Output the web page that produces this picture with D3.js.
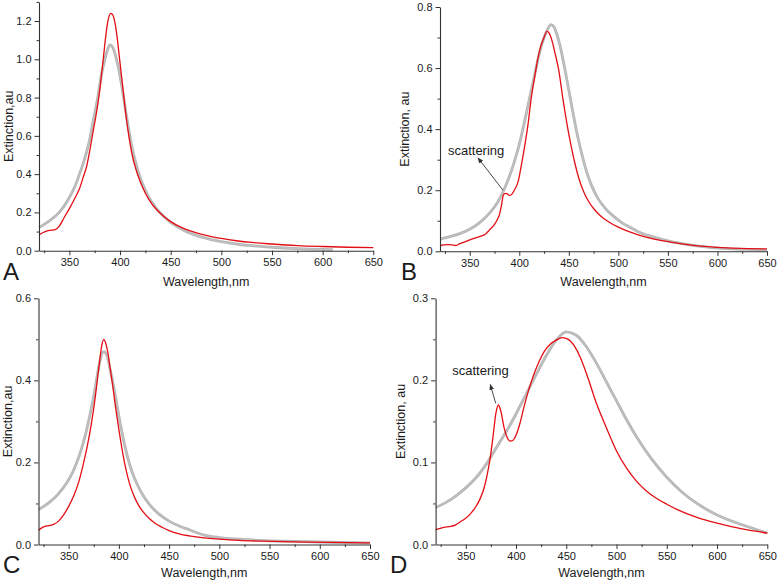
<!DOCTYPE html>
<html><head><meta charset="utf-8">
<script src="https://cdn.jsdelivr.net/npm/d3@7"></script>
<style>
html,body{margin:0;padding:0;background:#fff;}
svg{display:block;font-family:"Liberation Sans",Arial,sans-serif;}
</style></head>
<body>
<svg id="chart" width="778" height="585"></svg>
<script>
// ---------- data ----------
const panelLetters = ["A", "B", "C", "D"];
const xTitle = "Wavelength,nm";
const yTitles = ["Extinction,au", "Extinction, au", "Extinction,au", "Extinction, au"];
const xTicks = [350, 400, 450, 500, 550, 600, 650];
const xMinorTicks = [325, 375, 425, 475, 525, 575, 625];
const yMaxA = 1.3, yMaxB = 0.8, yMaxC = 0.6, yMaxD = 0.3;
const yTicksA = [0, 0.2, 0.4, 0.6, 0.8, 1.0, 1.2];
const yMinorA = [0.1, 0.3, 0.5, 0.7, 0.9, 1.1, 1.3];
const yTicksB = [0, 0.2, 0.4, 0.6, 0.8];
const yMinorB = [0.1, 0.3, 0.5, 0.7];
const yTicksC = [0, 0.2, 0.4, 0.6];
const yMinorC = [0.1, 0.3, 0.5];
const yTicksD = [0, 0.1, 0.2, 0.3];
const yMinorD = [0.05, 0.15, 0.25];

// Panel A
const aGrayNm  = [320,330,340,348,355,360,365,370,374,378,382,385,388,390,393,396,399,402,405,408,411,415,420,425,430,436,443,450,460,470,480,490,500,515,530,550,575,600,610];
const aGrayVal = [0.122,0.155,0.2,0.26,0.33,0.40,0.48,0.58,0.69,0.80,0.93,1.0,1.055,1.075,1.06,1.01,0.94,0.85,0.75,0.65,0.56,0.47,0.38,0.315,0.265,0.22,0.18,0.148,0.115,0.09,0.072,0.058,0.047,0.035,0.026,0.018,0.011,0.007,0.006];
const aRedNm   = [320,324,328,332,336,340,345,350,355,360,364,367,370,373,377,380,383,385,388,391,393,395,397,400,403,406,409,412,416,420,425,430,436,443,450,460,470,480,490,500,515,530,550,575,600,625,650];
const aRedVal  = [0.082,0.095,0.104,0.107,0.11,0.128,0.175,0.22,0.27,0.325,0.39,0.44,0.52,0.61,0.73,0.84,0.98,1.08,1.2,1.24,1.23,1.19,1.12,0.98,0.84,0.70,0.59,0.50,0.42,0.36,0.30,0.255,0.215,0.18,0.152,0.123,0.102,0.086,0.074,0.064,0.052,0.043,0.035,0.027,0.022,0.018,0.016];

// Panel B
const bGrayNm  = [320,330,340,350,360,370,378,385,390,395,400,405,410,415,420,425,429,432,435,438,441,444,447,451,455,459,463,468,473,480,487,495,503,512,520,535,550,570,590,610,630,650];
const bGrayVal = [0.04,0.048,0.058,0.072,0.094,0.125,0.16,0.205,0.245,0.293,0.35,0.42,0.495,0.57,0.645,0.70,0.73,0.742,0.735,0.71,0.675,0.63,0.58,0.51,0.44,0.375,0.32,0.26,0.215,0.17,0.14,0.115,0.095,0.078,0.064,0.047,0.034,0.022,0.014,0.009,0.006,0.004];
const bRedNm   = [320,327,332,336,340,347,352,360,366,370,375,378,380,382,384,386,388,390,392,395,399,402,406,409,412,416,419,422,425,428,430,433,436,440,444,448,452,456,460,465,470,476,483,490,500,510,520,535,550,570,590,610,630,650];
const bRedVal  = [0.019,0.022,0.021,0.019,0.025,0.033,0.04,0.048,0.057,0.07,0.088,0.105,0.12,0.15,0.185,0.19,0.188,0.183,0.185,0.2,0.23,0.28,0.355,0.42,0.5,0.58,0.635,0.675,0.70,0.72,0.715,0.69,0.65,0.59,0.50,0.42,0.35,0.29,0.24,0.195,0.163,0.136,0.113,0.097,0.079,0.065,0.054,0.041,0.032,0.022,0.015,0.011,0.009,0.008];

// Panel C
const cGrayNm  = [320,326,332,340,348,354,358,363,368,372,376,379,381,383,385,387,389,391,394,397,400,403,406,409,413,418,424,431,440,450,460,470,485,500,520,545,575,610,650];
const cGrayVal = [0.085,0.094,0.105,0.124,0.15,0.176,0.199,0.235,0.28,0.325,0.375,0.42,0.445,0.465,0.47,0.466,0.455,0.43,0.395,0.355,0.313,0.275,0.24,0.21,0.178,0.148,0.12,0.096,0.074,0.057,0.045,0.036,0.023,0.017,0.013,0.0095,0.0075,0.0055,0.004];
const cRedNm   = [320,325,330,335,340,345,350,355,360,365,369,373,376,379,381,383,385,387,389,391,394,397,400,403,406,409,412,416,420,425,430,436,443,450,460,470,485,500,520,545,575,610,650];
const cRedVal  = [0.035,0.043,0.046,0.049,0.057,0.072,0.093,0.118,0.152,0.2,0.245,0.3,0.35,0.41,0.45,0.485,0.5,0.49,0.468,0.435,0.385,0.33,0.28,0.235,0.195,0.163,0.138,0.113,0.094,0.077,0.064,0.052,0.042,0.034,0.026,0.021,0.016,0.013,0.01,0.008,0.0065,0.005,0.004];

// Panel D
const dGrayNm  = [320,330,340,350,360,370,380,390,400,410,420,430,440,450,460,470,480,490,500,510,520,535,550,565,580,600,625,650];
const dGrayVal = [0.045,0.051,0.059,0.069,0.081,0.097,0.117,0.137,0.159,0.183,0.207,0.23,0.249,0.259,0.255,0.241,0.221,0.198,0.175,0.152,0.131,0.104,0.082,0.064,0.05,0.036,0.024,0.014];
const dRedNm   = [320,328,335,340,345,350,355,360,364,368,371,374,377,380,382.5,385,388,391,394,397,400,404,408,413,418,423,428,434,440,446,452,458,464,471,480,490,500,510,520,530,540,550,565,580,600,625,650];
const dRedVal  = [0.018,0.021,0.022,0.024,0.028,0.032,0.038,0.046,0.055,0.068,0.083,0.103,0.13,0.16,0.17,0.162,0.143,0.131,0.126,0.127,0.133,0.148,0.168,0.19,0.208,0.223,0.235,0.244,0.249,0.252,0.25,0.242,0.228,0.205,0.172,0.142,0.114,0.093,0.077,0.065,0.056,0.049,0.04,0.033,0.026,0.019,0.014];

// annotations (data coordinates)
const annotText = "scattering";
const annotB = {tx: 328, ty: 0.315, x1: 383.6, y1: 0.2, x2: 358.3, y2: 0.306};
const annotD = {tx: 336.6, ty: 0.2065, x1: 379.8, y1: 0.172, x2: 374.4, y2: 0.195};

// ---------- layout ----------
const panels = [
  {letter: panelLetters[0], yTitle: yTitles[0], x0: 39, x1: 373.3, yb: 250.7, yt: 250.7 - 191.4 * yMaxA, ymax: yMaxA, yT: yTicksA, yM: yMinorA,
   gray: [aGrayNm, aGrayVal], red: [aRedNm, aRedVal], annot: null, letterX: 3, letterY: 280, titleY: 285.5, yTitleX: 12.5},
  {letter: panelLetters[1], yTitle: yTitles[1], x0: 440, x1: 767, yb: 251.3, yt: 7, ymax: yMaxB, yT: yTicksB, yM: yMinorB,
   gray: [bGrayNm, bGrayVal], red: [bRedNm, bRedVal], annot: annotB, letterX: 401, letterY: 280, titleY: 285.5, yTitleX: 409},
  {letter: panelLetters[2], yTitle: yTitles[2], x0: 38.5, x1: 370, yb: 544.5, yt: 298.3, ymax: yMaxC, yT: yTicksC, yM: yMinorC,
   gray: [cGrayNm, cGrayVal], red: [cRedNm, cRedVal], annot: null, letterX: 3, letterY: 573, titleY: 577, yTitleX: 11.5},
  {letter: panelLetters[3], yTitle: yTitles[3], x0: 435.6, x1: 767.3, yb: 544.5, yt: 298.3, ymax: yMaxD, yT: yTicksD, yM: yMinorD,
   gray: [dGrayNm, dGrayVal], red: [dRedNm, dRedVal], annot: annotD, letterX: 390, letterY: 573, titleY: 577, yTitleX: 405}
];

const svg = d3.select("#chart");
const defs = svg.append("defs");
defs.append("marker").attr("id", "arrow").attr("viewBox", "0 0 10 10")
  .attr("refX", 9).attr("refY", 5).attr("markerWidth", 6).attr("markerHeight", 6)
  .attr("orient", "auto").attr("markerUnits", "userSpaceOnUse")
  .append("path").attr("d", "M0,1 L10,5 L0,9 Z").attr("fill", "#333");

const axisColor = "#333";
const textColor = "#1a1a1a";

panels.forEach(p => {
  const x = d3.scaleLinear().domain([320, 650]).range([p.x0, p.x1]);
  const y = d3.scaleLinear().domain([0, p.ymax]).range([p.yb, p.yt]);
  const g = svg.append("g");

  const line = d3.line().x(d => x(d[0])).y(d => y(d[1])).curve(d3.curveMonotoneX);
  const grayPts = d3.zip(p.gray[0], p.gray[1]);
  const redPts = d3.zip(p.red[0], p.red[1]);

  g.append("path").datum(grayPts).attr("d", line)
    .attr("fill", "none").attr("stroke", "#b4b4b4").attr("stroke-width", 2.8).attr("stroke-linejoin", "round");
  g.append("path").datum(grayPts).attr("d", line)
    .attr("fill", "none").attr("stroke", "#c4c4c4").attr("stroke-width", 1.0);
  g.append("path").datum(redPts).attr("d", line)
    .attr("fill", "none").attr("stroke", "#e30e14").attr("stroke-width", 1.3).attr("stroke-linejoin", "round");

  // x axis
  const xAxis = g.append("g").attr("transform", `translate(0,${p.yb})`)
    .call(d3.axisBottom(x).tickValues(xTicks).tickSize(4.5).tickSizeOuter(0).tickPadding(3).tickFormat(d3.format("d")));
  xAxis.append("g").call(d3.axisBottom(x).tickValues(xMinorTicks).tickSize(2.5).tickSizeOuter(0).tickFormat(""))
    .select(".domain").remove();
  // y axis
  const yAxis = g.append("g").attr("transform", `translate(${p.x0},0)`)
    .call(d3.axisLeft(y).tickValues(p.yT).tickSize(4.5).tickSizeOuter(0).tickPadding(3).tickFormat(d3.format(".1f")));
  yAxis.append("g").call(d3.axisLeft(y).tickValues(p.yM).tickSize(2.5).tickSizeOuter(0).tickFormat(""))
    .select(".domain").remove();

  [xAxis, yAxis].forEach(a => {
    a.selectAll(".domain").attr("stroke", axisColor).attr("stroke-width", 1.1);
    a.selectAll(".tick line").attr("stroke", axisColor).attr("stroke-width", 1);
    a.selectAll(".tick text").attr("fill", textColor).style("font-size", "11px").style("font-family", "Liberation Sans, Arial, sans-serif");
  });

  // axis titles
  g.append("text").attr("x", (p.x0 + p.x1) / 2).attr("y", p.titleY).attr("text-anchor", "middle")
    .style("font-size", "12.5px").attr("fill", textColor).text(xTitle);
  g.append("text").attr("transform", `translate(${p.yTitleX},${(p.yb + p.yt) / 2}) rotate(-90)`)
    .attr("text-anchor", "middle").style("font-size", "12.5px").attr("fill", textColor).text(p.yTitle);
  // panel letter
  g.append("text").attr("x", p.letterX).attr("y", p.letterY).style("font-size", "24px").attr("fill", textColor).text(p.letter);

  if (p.annot) {
    const a = p.annot;
    g.append("text").attr("x", x(a.tx)).attr("y", y(a.ty)).style("font-size", "13px").attr("fill", textColor).text(annotText);
    g.append("line").attr("x1", x(a.x1)).attr("y1", y(a.y1)).attr("x2", x(a.x2)).attr("y2", y(a.y2))
      .attr("stroke", "#333").attr("stroke-width", 0.9).attr("marker-end", "url(#arrow)");
  }
});
</script>
</body></html>
